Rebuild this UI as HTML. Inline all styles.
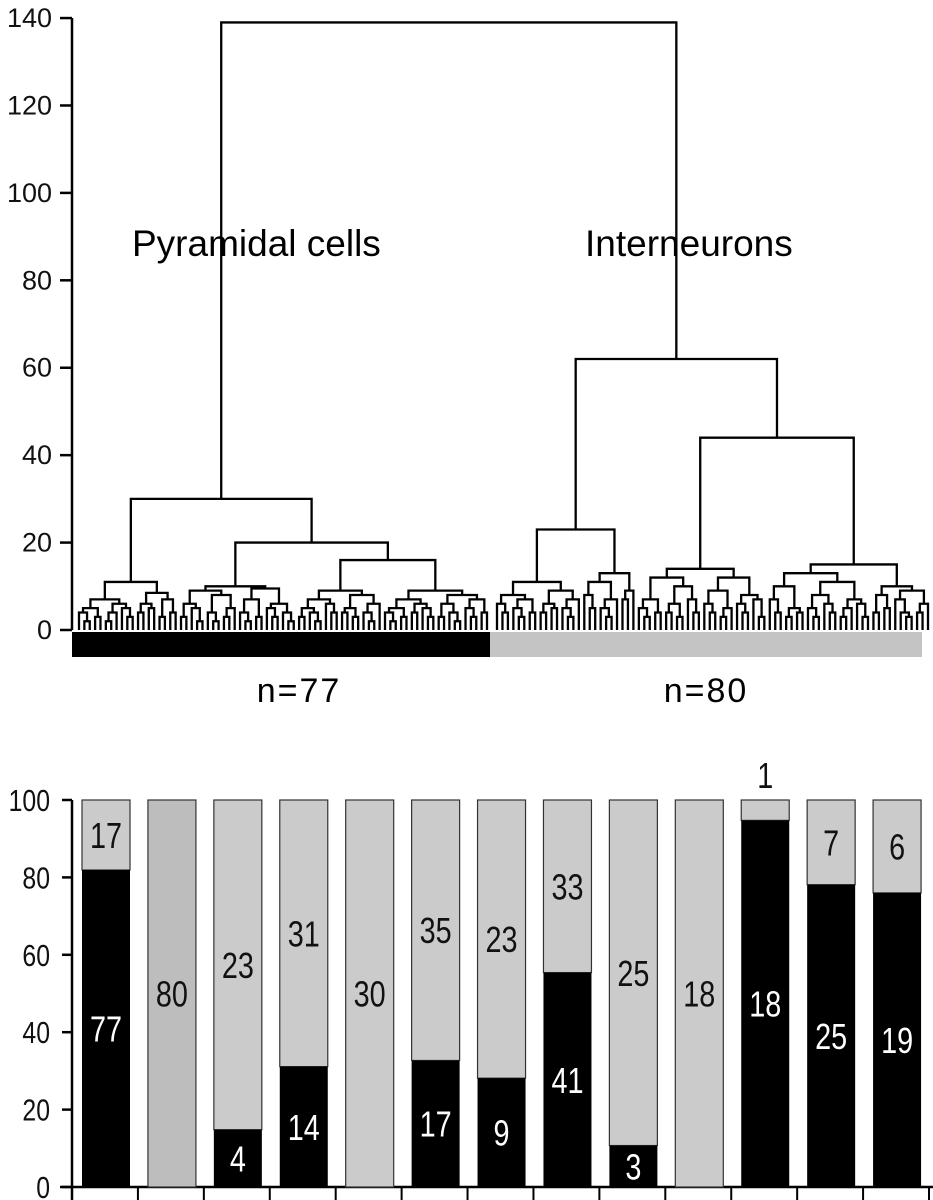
<!DOCTYPE html>
<html><head><meta charset="utf-8">
<style>
html,body{margin:0;padding:0;background:#fff;}
svg{display:block;font-family:"Liberation Sans",sans-serif;}
</style></head>
<body>
<svg id="chart" width="933" height="1200" viewBox="0 0 933 1200" xmlns="http://www.w3.org/2000/svg">
  <g id="dendro"></g>
  <g id="bars"></g>
</svg>
<script>
// ---------- Dendrogram data ----------
const dendroTicks = [0, 20, 40, 60, 80, 100, 120, 140];
const A1 = [7,[5,[4,0,[2,0,0]],[3,0,0]],[6,[4,[2,0,0],0],[5,0,[3,0,0]]]];
const A2 = [8.5,[6,[4,0,0],[5,0,0]],[7,[3,0,0],[4,0,0]]];
const B1a = [9,[6,[3,0,0],[5,0,[2,0,0]]],[8,[4,0,[2,0,0]],[5,[3,0,0],0]]];
const B1b = [9.5,[7,[4,0,[2,0,0]],[3,0,0]],[6,[5,0,[3,0,0]],[4,0,[2,0,0]]]];
const B2a = [9,[7,[5,[3,0,0],[4,0,[2,0,0]]],[6,0,[4,0,0]]],[8,[5,[4,0,0],[3,0,0]],[6,[4,0,[2,0,0]],0]]];
const B2b = [9,[7,[5,[4,0,[2,0,0]],[3,0,0]],[6,[4,0,0],[5,0,[3,0,0]]]],[8,[6,[3,0,0],[4,0,[2,0,0]]],[7,[5,0,[3,0,0]],[4,0,0]]]];
const C1 = [11,[8,[6,0,[4,0,0]],[7,[5,0,[3,0,0]],[4,0,0]]],[9,[6,[4,0,0],[5,0,0]],[7,[5,0,[3,0,0]],0]]];
const C2 = [13,[11,[8,0,[5,0,0]],[7,[5,0,[3,0,0]],0]],[9,[7,0,0],0]];
const D1 = [14,[12,[7,[5,0,[3,0,0]],[4,0,0]],[10,[6,[4,0,0],[3,0,0]],[7,0,[4,0,0]]]],[12,[9,[6,0,[4,0,0]],[5,[3,0,0],0]],[8,[6,0,[4,0,0]],[7,0,[3,0,0]]]]];
const D2 = [15,[13,[10,[7,0,[4,0,0]],[5,[3,0,0],[4,0,0]]],[11,[8,[5,0,[3,0,0]],[6,0,[4,0,0]]],[7,[5,[3,0,0],0],[6,0,[3,0,0]]]]],[10,[8,[4,0,0],[5,0,0]],[9,[7,0,[4,0,[3,0,0]]],[6,[4,0,0],0]]]];
const pyrTree = [30,[11,A1,A2],[20,[10,B1a,B1b],[16,B2a,B2b]]];
const intTree = [62,[23,C1,C2],[44,D1,D2]];
const rootHeight = 139;
const groupLabels = ["n=77","n=80"];

// ---------- Bar data ----------
const barBlack = [77, 0, 4, 14, 0, 17, 9, 41, 3, 0, 18, 25, 19];
const barGray  = [17, 80, 23, 31, 30, 35, 23, 33, 25, 18, 1, 7, 6];
const barTicks = [0, 20, 40, 60, 80, 100];

const NS = "http://www.w3.org/2000/svg";
function mk(parent, tag, attrs, text){
  const e = document.createElementNS(NS, tag);
  for (const k in attrs) e.setAttribute(k, attrs[k]);
  if (text !== undefined) e.textContent = text;
  parent.appendChild(e);
  return e;
}

// ---------- Dendrogram ----------
const dg = document.getElementById('dendro');
const yD = v => 630 - v * 4.371;
const axD = mk(dg, 'line', {x1:72, y1:yD(140), x2:72, y2:630, stroke:'#000','stroke-width':2.5});


dendroTicks.forEach(t=>{
  const tk = mk(dg,'line',{x1:60,y1:yD(t),x2:72,y2:yD(t),stroke:'#000','stroke-width':2.5});
  
  
  const lb = mk(dg,'text',{x:52,y:yD(t)+9,'text-anchor':'end','font-size':27,fill:'#111'}, String(t));
  
  
});
function countLeaves(n){ return n===0 ? 1 : countLeaves(n[1]) + countLeaves(n[2]); }
function layout(node, state){
  if (node === 0){ const x = state.x0 + state.i * state.step; state.i++; return {x:x, h:0}; }
  const a = layout(node[1], state), b = layout(node[2], state);
  drawLink(a, b, node[0]);
  return {x:(a.x+b.x)/2, h:node[0]};
}
function drawLink(a, b, h){
  const p = mk(dg,'path',{d:`M${a.x},${yD(a.h)}V${yD(h)}H${b.x}V${yD(b.h)}`,fill:'none',stroke:'#000','stroke-width':2.3});
  
  
}
const nP = countLeaves(pyrTree), nI = countLeaves(intTree);
const pRes = layout(pyrTree, {x0:79, i:0, step:(487-79)/(nP-1)});
const iRes = layout(intTree, {x0:497, i:0, step:(928-497)/(nI-1)});
drawLink(pRes, iRes, rootHeight);

const rb1 = mk(dg,'rect',{x:72,y:632,width:418,height:25,fill:'#000'});


const rb2 = mk(dg,'rect',{x:490,y:632,width:432,height:25,fill:'#c4c4c4'});


const t1 = mk(dg,'text',{x:132,y:256,'font-size':37,fill:'#000'},'Pyramidal cells');


const t2 = mk(dg,'text',{x:585,y:256,'font-size':37,fill:'#000'},'Interneurons');


const n1 = mk(dg,'text',{x:299,y:702,'text-anchor':'middle','font-size':34,'letter-spacing':2,fill:'#000'},groupLabels[0]);


const n2 = mk(dg,'text',{x:706,y:702,'text-anchor':'middle','font-size':34,'letter-spacing':2,fill:'#000'},groupLabels[1]);



// ---------- Stacked bars ----------
const bg = document.getElementById('bars');
const yB = v => 1187 - v * 3.87;
const step = (929-72)/barBlack.length;
const xB = i => 72 + i*step;
function narrowText(x, y, size, fill, anchor, str){
  return mk(bg,'text',{x:0,y:0,'text-anchor':anchor,'font-size':size,fill:fill,transform:`translate(${x},${y}) scale(0.8,1)`}, str);
}
const axB = mk(bg,'line',{x1:72,y1:yB(100),x2:72,y2:1200,stroke:'#000','stroke-width':2.5});


const baseB = mk(bg,'line',{x1:60,y1:yB(0),x2:933,y2:yB(0),stroke:'#000','stroke-width':2.5});


barTicks.forEach(t=>{
  const tk = mk(bg,'line',{x1:62,y1:yB(t),x2:72,y2:yB(t),stroke:'#000','stroke-width':2.5});
  
  
  const lb = narrowText(50, yB(t)+11, 31, '#111', 'end', String(t));
  
  
});
for (let i=0;i<=barBlack.length;i++){
  const tk = mk(bg,'line',{x1:xB(i),y1:yB(0),x2:xB(i),y2:1200,stroke:'#000','stroke-width':2});
  
  
}
barBlack.forEach((b,i)=>{
  const g = barGray[i], tot = b+g;
  const pb = 100*b/tot;
  const x = xB(i)+10, w = 48;
  const gr = mk(bg,'rect',{x:x,y:yB(100),width:w,height:yB(pb)-yB(100),fill:(b===0&&i===1)?'#bdbdbd':'#cbcbcb',stroke:'#333','stroke-width':1.2});
  
  
  if (b>0){
    const bl = mk(bg,'rect',{x:x,y:yB(pb),width:w,height:yB(0)-yB(pb),fill:'#000'});
    
    
    const tb = narrowText(x+w/2, (yB(pb)+yB(0))/2+13, 36, '#fff', 'middle', String(b));
    
    
  }
  const gh = 100-pb;
  const gy = gh < 8 ? yB(100)-12 : (yB(100)+yB(pb))/2+13;
  const tg = narrowText(x+w/2, gy, 36, '#111', 'middle', String(g));
  
  
});
</script>
</body></html>
